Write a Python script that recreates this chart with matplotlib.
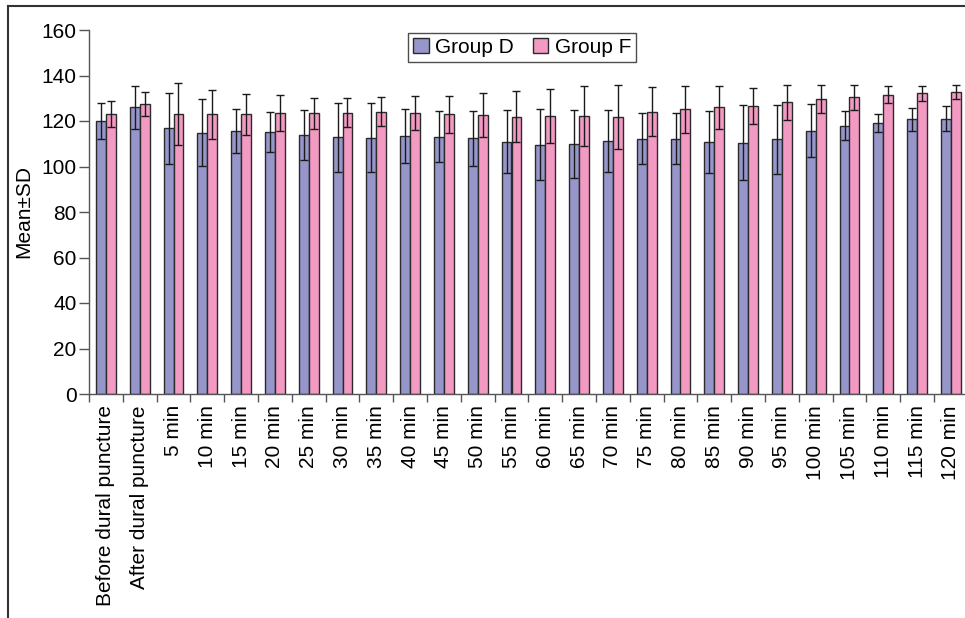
import numpy as np
import matplotlib.pyplot as plt
from matplotlib.lines import Line2D

plt.rcParams['font.family'] = ['Liberation Sans', 'DejaVu Sans']

# Time points
labels = ["Before dural puncture", "After dural puncture"] + [f"{m} min" for m in range(5, 125, 5)]

# Group D mean and SD
mean_d = [120.1, 126.0, 116.9, 114.9, 115.6, 115.0, 114.0, 112.8, 112.7, 113.4, 113.1, 112.4, 110.9,
          109.6, 109.9, 111.3, 112.1, 112.2, 110.9, 110.5, 111.9, 115.7, 117.9, 119.1, 120.7, 121.0]
sd_d = [8.0, 9.6, 15.6, 14.7, 9.8, 8.8, 11.0, 15.0, 15.0, 11.7, 11.2, 12.2, 13.8,
        15.6, 14.8, 13.6, 11.2, 11.2, 13.7, 16.4, 15.0, 11.7, 6.3, 4.1, 5.0, 5.6]

# Group F mean and SD
mean_f = [123.1, 127.6, 122.9, 122.9, 122.9, 123.4, 123.4, 123.7, 124.1, 123.5, 122.9, 122.5, 121.9,
          122.2, 122.2, 121.8, 124.1, 125.1, 126.0, 126.6, 128.2, 129.7, 130.4, 131.6, 132.2, 132.7]
sd_f = [5.6, 5.2, 13.6, 10.8, 9.1, 8.0, 6.7, 6.3, 6.5, 7.5, 8.2, 9.6, 11.1,
        12.0, 13.2, 13.9, 10.7, 10.5, 9.5, 7.7, 7.6, 6.2, 5.4, 3.8, 3.4, 3.2]

x = np.arange(len(labels))
w = 0.29
fs = 15

fig = plt.figure(figsize=(9.65, 6.18), dpi=100)
ax = fig.add_axes([89 / 965, 1 - 394 / 618, 878.8 / 965, 364 / 618])

err_kw = dict(ecolor="#1a1a1a", elinewidth=1.0, capsize=3.2, capthick=1.0)
ax.bar(x - w / 2, mean_d, w, yerr=sd_d, color="#9696CA", edgecolor="#2a2a2a",
       linewidth=1.0, label="Group D", error_kw=err_kw)
ax.bar(x + w / 2, mean_f, w, yerr=sd_f, color="#F39AC3", edgecolor="#2a2a2a",
       linewidth=1.0, label="Group F", error_kw=err_kw)

ax.set_xlim(-0.5, len(labels) - 0.5)
ax.set_ylim(0, 160)
ax.set_yticks(range(0, 161, 20))
ax.tick_params(axis="y", labelsize=fs, direction="out", length=7, width=1, color="#555555", pad=2)

# labels at category centres, tick marks between categories
ax.set_xticks(x)
ax.set_xticklabels(labels, rotation=90, fontsize=fs)
ax.tick_params(axis="x", which="major", length=0, pad=8)
ax.set_xticks(np.arange(len(labels)) - 0.5, minor=True)
ax.tick_params(axis="x", which="minor", direction="out", length=6, width=1, color="#555555")

for side in ["top", "right"]:
    ax.spines[side].set_visible(False)
for side in ["left", "bottom"]:
    ax.spines[side].set_color("#555555")
    ax.spines[side].set_linewidth(1.0)

ax.set_ylabel("Mean±SD", fontsize=fs, labelpad=6)

leg = ax.legend(loc="upper center", bbox_to_anchor=(0.493, 0.992), ncol=2, fontsize=fs,
                frameon=True, fancybox=False, handlelength=0.75, handleheight=0.75,
                handletextpad=0.3, columnspacing=0.9, borderpad=0.25, borderaxespad=0)
leg.get_frame().set_edgecolor("#222222")
leg.get_frame().set_linewidth(1.0)

# outer frame along the top and left of the figure
fig.add_artist(Line2D([8 / 965, 8 / 965], [0, 1 - 6 / 618], color="#333333", linewidth=1.5))
fig.add_artist(Line2D([8 / 965, 1], [1 - 6 / 618, 1 - 6 / 618], color="#333333", linewidth=1.5))

fig.savefig("out.png", dpi=100)
